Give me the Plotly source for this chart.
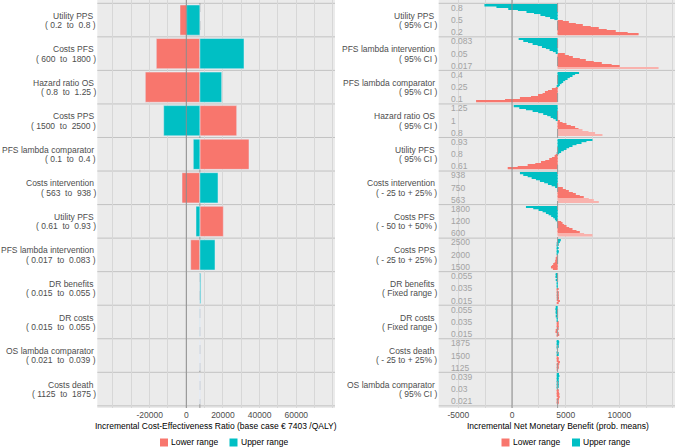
import plotly.graph_objects as go

W, H = 676, 447

# ---------------- data: left panel (deterministic one-way ICER) ----------------
left_params = ["Utility PPS", "Costs PFS", "Hazard ratio OS", "Costs PPS",
               "PFS lambda comparator", "Costs intervention", "Utility PFS",
               "PFS lambda intervention", "DR benefits", "DR costs",
               "OS lambda comparator", "Costs death"]
left_low = ["0.2", "600", "0.8", "1500", "0.1", "563", "0.61", "0.017",
            "0.015", "0.015", "0.021", "1125"]
left_high = ["0.8", "1800", "1.25", "2500", "0.4", "938", "0.93", "0.083",
             "0.055", "0.055", "0.039", "1875"]
icer_base = 7403
icer_lower = [-3440, -16370, -22370, 27500, 34210, -2350, 20190, 2400,
              7300, 7380, 7403, 7403]
icer_upper = [200, 31480, 19310, -12330, 3820, 17300, 5290, 15660,
              7900, 7440, 7403, 7403]

# ---------------- data: right panel (probabilistic NMB) ----------------
right_params = ["Utility PPS", "PFS lambda intervention", "PFS lambda comparator",
                "Hazard ratio OS", "Utility PFS", "Costs intervention", "Costs PFS",
                "Costs PPS", "DR benefits", "DR costs", "Costs death",
                "OS lambda comparator"]
right_ranges = ["95% CI", "95% CI", "95% CI", "95% CI", "95% CI",
                "- 25 to + 25%", "- 50 to + 50%", "- 25 to + 25%",
                "Fixed range", "Fixed range", "- 25 to + 25%", "95% CI"]
right_top = ["0.8", "0.083", "0.4", "1.25", "0.93", "938", "1800", "2500",
             "0.055", "0.055", "1875", "0.039"]
right_mid = ["0.5", "0.05", "0.25", "1", "0.8", "750", "1200", "2000",
             "0.035", "0.035", "1500", "0.03"]
right_bot = ["0.2", "0.017", "0.1", "0.8", "0.61", "563", "600", "1500",
             "0.015", "0.015", "1125", "0.021"]
nmb_base = 4250
# NMB for parameter values above the mean (top -> middle of each row)
nmb_upper = [
    [-2570, -1450, -350, 550, 1350, 2050, 2650, 3100, 3550, 3950],
    [620, 1050, 1490, 1920, 2390, 2790, 3160, 3500, 3810, 4090],
    [6250, 5880, 5640, 5390, 5180, 4950, 4770, 4620, 4460, 4340],
    [160, 680, 1300, 1920, 2440, 2910, 3280, 3600, 3840, 4090],
    [7500, 6940, 6480, 6010, 5640, 5330, 5080, 4830, 4580, 4400],
    [740, 1050, 1460, 1830, 2230, 2600, 3000, 3350, 3690, 4020],
    [1300, 1980, 2480, 2850, 3160, 3410, 3650, 3840, 4000, 4150],
    [4550, 4460, 4340, 4300, 4200, 4280, 4230, 4310, 4260, 4220],
    [4150, 4100, 4050, 4180, 4120, 4200, 4170, 4230, 4210, 4240],
    [4100, 4050, 4120, 4080, 4150, 4180, 4130, 4200, 4230, 4240],
    [4330, 4400, 4350, 4300, 4270, 4200, 4250, 4230, 4280, 4260],
    [4380, 4420, 4330, 4300, 4280, 4350, 4310, 4260, 4290, 4240],
]
# NMB for parameter values below the mean (middle -> bottom of each row)
nmb_lower = [
    [4740, 5300, 5950, 6600, 7340, 8090, 8830, 9670, 10780, 11800],
    [4930, 5300, 5670, 6320, 6880, 7620, 8370, 9290, 10040, 13660],
    [4090, 3720, 3350, 3070, 2850, 2420, 1770, 740, -650, -3350],
    [4460, 4710, 5080, 5480, 5880, 6200, 6570, 7130, 7740, 8430],
    [4150, 3970, 3720, 3470, 3100, 2700, 2170, 1460, 530, -400],
    [4740, 5020, 5300, 5670, 5950, 6320, 6690, 7160, 7620, 8090],
    [4580, 4710, 4860, 5080, 5330, 5640, 6010, 6320, 6720, 7500],
    [4210, 4180, 4150, 4090, 4030, 3970, 3840, 3720, 3630, 3810],
    [4280, 4220, 4300, 4260, 4330, 4290, 4380, 4320, 4470, 4350],
    [4300, 4330, 4270, 4350, 4300, 4150, 4050, 4300, 4400, 4200],
    [4230, 4300, 4280, 4350, 4470, 4400, 4300, 4260, 4330, 4200],
    [4300, 4350, 4380, 4420, 4400, 4440, 4380, 4350, 4320, 4280],
]

# ---------------- style ----------------
RED, TEAL, PINK = "#F8766D", "#00BFC4", "#F9B2AD"
BG, GRID, SEP = "#EBEBEB", "#D7D7D7", "#C2C2C2"
FONT = "Liberation Sans, Arial, sans-serif"
FS = 8.5
light_tail = [0, 1, 0, 4, 0, 3, 2, 0, 0, 0, 0, 0]  # faded bars at bottom of a row

def px_x(p):
    return p / W

def px_y(p):
    return 1 - p / H

LEFT_X0, LEFT_X1 = 97.3, 335
RIGHT_X0, RIGHT_X1 = 438.7, 675
y_dom = [px_y(408), 1.0]
y_rng = [12.564, 0.4016]
rows = list(range(1, 13))

fig = go.Figure()

# left tornado
fig.add_trace(go.Bar(y=rows, x=[v - icer_base for v in icer_lower], base=icer_base,
                     orientation="h", width=0.9, marker_color=RED,
                     xaxis="x", yaxis="y", showlegend=False, name="Lower range"))
fig.add_trace(go.Bar(y=rows, x=[v - icer_base for v in icer_upper], base=icer_base,
                     orientation="h", width=0.9, marker_color=TEAL,
                     xaxis="x", yaxis="y", showlegend=False, name="Upper range"))

# right distribution tornado: thin bars stacked inside each row
n = 10
step = 0.9 / (2 * n)
uy, ux, ly, lx, lc = [], [], [], [], []
for k, (ups, lows) in enumerate(zip(nmb_upper, nmb_lower), start=1):
    top = k - 0.45
    for i, v in enumerate(ups):
        uy.append(top + (i + 0.5) * step)
        ux.append(v - nmb_base)
    for i, v in enumerate(lows):
        ly.append(top + (n + i + 0.5) * step)
        lx.append(v - nmb_base)
        lc.append(PINK if i >= n - light_tail[k - 1] else RED)

fig.add_trace(go.Bar(y=ly, x=lx, base=nmb_base, orientation="h", width=step,
                     marker=dict(color=lc, line_width=0),
                     xaxis="x2", yaxis="y2", showlegend=False, name="Lower range"))
fig.add_trace(go.Bar(y=uy, x=ux, base=nmb_base, orientation="h", width=step,
                     marker=dict(color=TEAL, line_width=0),
                     xaxis="x2", yaxis="y2", showlegend=False, name="Upper range"))

shapes = []
annotations = []

def note(text, x, y, xanchor, color, yref="paper"):
    annotations.append(dict(text=text, xref="paper", yref=yref, x=x, y=y,
                            xanchor=xanchor, yanchor="middle", showarrow=False,
                            borderpad=0, borderwidth=0,
                            font=dict(size=FS, color=color, family=FONT)))

# row separators, zero lines, base case lines
for xa, ya in (("x", "y"), ("x2", "y2")):
    for k in range(13):
        shapes.append(dict(type="line", xref=f"{xa} domain", yref=ya, x0=0, x1=1,
                           y0=k + 0.5, y1=k + 0.5, line=dict(color=SEP, width=1),
                           layer="below"))
    shapes.append(dict(type="line", xref=xa, yref=f"{ya} domain", x0=0, x1=0,
                       y0=0, y1=1, line=dict(color="#8C8C8C", width=1), layer="above"))
shapes.append(dict(type="line", xref="x", yref="y domain", x0=icer_base, x1=icer_base,
                   y0=0, y1=1, line=dict(color="#9A9A9A", width=1, dash="dash"),
                   layer="below"))
shapes.append(dict(type="line", xref="x2", yref="y2 domain", x0=nmb_base, x1=nmb_base,
                   y0=0, y1=1, line=dict(color="#9A9A9A", width=1, dash="dash"),
                   layer="above"))

# two-line row labels for both panels
for k in rows:
    p, lo, hi = left_params[k - 1], left_low[k - 1], left_high[k - 1]
    note(p + "\u00a0", px_x(LEFT_X0 - 1.2), k - 0.132, "right", "#4D4D4D", "y")
    note(f"( {lo} \u00a0to\u00a0 {hi} )", px_x(LEFT_X0 - 1.2), k + 0.146, "right", "#4D4D4D", "y")
    note(right_params[k - 1] + "\u00a0", px_x(RIGHT_X0 - 1.5), k - 0.132, "right", "#4D4D4D", "y2")
    note(f"( {right_ranges[k - 1]} )", px_x(RIGHT_X0 - 1.5), k + 0.146, "right", "#4D4D4D", "y2")

# value labels inside right panel
for k in rows:
    for txt, dy in ((right_top[k - 1], -0.37), (right_mid[k - 1], 0.0),
                    (right_bot[k - 1], 0.36)):
        note(txt, px_x(450.5), k + dy, "left", "#A3A3A3", "y2")

# axis titles
note("Incremental Cost-Effectiveness Ratio (base case \u20ac 7403 /QALY)",
     px_x(216), px_y(426), "center", "#000000")
note("Incremental Net Monetary Benefit (prob. means)",
     px_x(557.5), px_y(426), "center", "#000000")

# legends (one under each panel)
for x_red, x_teal in ((160, 229.5), (501.5, 572)):
    for xs, col, lab in ((x_red, RED, "Lower range"), (x_teal, TEAL, "Upper range")):
        shapes.append(dict(type="rect", xref="paper", yref="paper",
                           x0=px_x(xs), x1=px_x(xs + 8), y0=px_y(446.5), y1=px_y(438.5),
                           fillcolor=col, line_width=0))
        note(lab, px_x(xs + 11), px_y(441.5), "left", "#000000")

left_ticks = list(range(-40000, 80001, 10000))
right_ticks = list(range(-5000, 15001, 2500))
tick_font = dict(size=FS, color="#4D4D4D", family=FONT)

fig.update_layout(
    width=W, height=H,
    margin=dict(l=0, r=0, t=0, b=0),
    paper_bgcolor="white", plot_bgcolor=BG,
    barmode="overlay",
    font=dict(family=FONT, size=FS),
    hovermode=False,
    xaxis=dict(domain=[px_x(LEFT_X0), px_x(LEFT_X1)], range=[-48560, 81130], anchor="y",
               tickvals=left_ticks,
               ticktext=[str(v) if v in (-20000, 0, 20000, 40000, 60000) else "" for v in left_ticks],
               showgrid=True, gridcolor=GRID, gridwidth=1, zeroline=False,
               ticks="", tickfont=tick_font),
    yaxis=dict(domain=y_dom, range=y_rng, anchor="x", showticklabels=False,
               showgrid=False, zeroline=False, ticks=""),
    xaxis2=dict(domain=[px_x(RIGHT_X0), px_x(RIGHT_X1)], range=[-6832, 15192], anchor="y2",
                tickvals=right_ticks,
                ticktext=[str(v) if v in (-5000, 0, 5000, 10000) else "" for v in right_ticks],
                showgrid=True, gridcolor=GRID, gridwidth=1, zeroline=False,
                ticks="", tickfont=tick_font),
    yaxis2=dict(domain=y_dom, range=y_rng, anchor="x2", showticklabels=False,
                showgrid=False, zeroline=False, ticks=""),
    shapes=shapes,
    annotations=annotations,
)

# page body margin would shift the fixed-size figure
fig.write_html("out.html", config={"displayModeBar": False},
               post_script="document.body.style.margin='0px';")
